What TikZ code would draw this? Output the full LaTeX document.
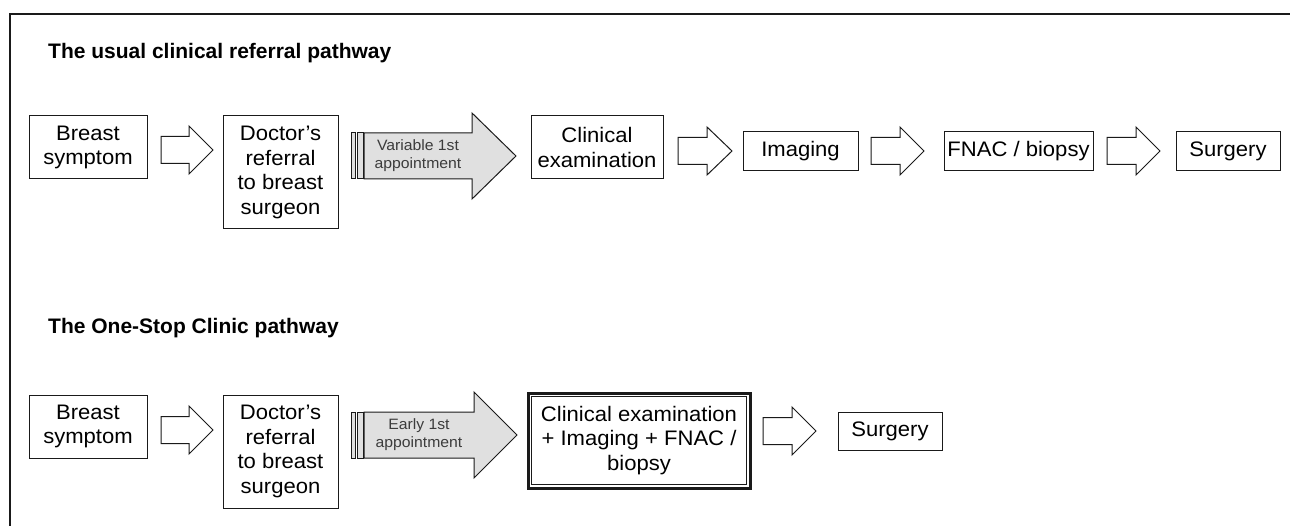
\documentclass[tikz,border=0pt]{standalone}
\usepackage{fontspec}
\setmainfont{Liberation Sans}[FakeStretch=1.05]
\newfontfamily\titlefont{Liberation Sans}
\definecolor{arrowgray}{HTML}{E0E0E0}
\definecolor{inkc}{HTML}{1A1A1A}
\newcommand{\hollowarrow}[5]{% xstart, xhead, xtip, yc, fill
  \draw[blockarrow, fill=#5] (#1,#4-13.5) -- (#2,#4-13.5) -- (#2,#4-24) -- (#3,#4) -- (#2,#4+24) -- (#2,#4+13.5) -- (#1,#4+13.5) -- cycle;}
\newcommand{\bigarrow}[5]{% xhead, xtip, yc, name, text
  \draw[blockarrow, fill=arrowgray] (351,#3-23) rectangle (355,#3+23);
  \draw[blockarrow, fill=arrowgray] (357,#3-23) rectangle (363,#3+23);
  \draw[blockarrow, fill=arrowgray] (364,#3-23) -- (#1,#3-23) -- (#1,#3-43) -- (#2,#3) -- (#1,#3+43) -- (#1,#3+23) -- (364,#3+23) -- cycle;
  \node[smalltxt] (#4) at ({(364+#1)/2},#3) {#5};}
\begin{document}
\begin{tikzpicture}[x=1pt,y=-1pt,
  box/.style={draw=inkc, line width=1pt, fill=white, align=center, inner sep=0pt,
    font=\fontsize{21}{24.5}\selectfont},
  blockarrow/.style={draw=inkc, line width=1pt, line join=miter},
  smalltxt/.style={align=center, inner sep=0pt, text=inkc!85, font=\fontsize{15}{18}\selectfont},
  titletxt/.style={anchor=base west, inner sep=0pt, font=\titlefont\fontsize{21}{25}\selectfont\bfseries}]
\useasboundingbox (0,0) rectangle (1290,526);
% frame
\draw[inkc, line width=1.8pt] (10,526) -- (10,14) -- (1290,14);

% ---------- Row 1 ----------
\node[titletxt] (t1) at (48,59) {The usual clinical referral pathway};
\node[box, minimum width=118, minimum height=63] (bs1) at (88,147.5) {Breast\\symptom};
\hollowarrow{161}{189}{213}{150}{white}
\node[box, minimum width=115, minimum height=113] (doc1) at (280.5,172.5) {Doctor’s\\referral\\to breast\\surgeon};
\bigarrow{472}{516}{156}{va}{Variable 1st\\appointment}
\node[box, minimum width=132, minimum height=63] (ce1) at (597,147.5) {Clinical\\examination};
\hollowarrow{678}{707}{732}{151}{white}
\node[box, minimum width=115, minimum height=39] (img) at (800.5,151.5) {Imaging};
\hollowarrow{871}{900}{924}{151}{white}
\node[box, minimum width=149, minimum height=39] (fnac) at (1018.5,151.5) {FNAC / biopsy};
\hollowarrow{1107}{1136}{1160}{151}{white}
\node[box, minimum width=104, minimum height=39] (surg1) at (1228,151.5) {Surgery};

% ---------- Row 2 ----------
\node[titletxt] (t2) at (48,334) {The One-Stop Clinic pathway};
\node[box, minimum width=118, minimum height=63] (bs2) at (88,426.5) {Breast\\symptom};
\hollowarrow{161}{189}{213}{430}{white}
\node[box, minimum width=115, minimum height=113] (doc2) at (280.5,451.5) {Doctor’s\\referral\\to breast\\surgeon};
\bigarrow{474}{517}{435}{ea}{Early 1st\\appointment}
\node[box, line width=3pt, minimum width=222, minimum height=95] (comb) at (639,440.5) {};
\draw[inkc, line width=1pt] ([xshift=5pt,yshift=5pt]comb.south west) rectangle ([xshift=-5pt,yshift=-5pt]comb.north east);
\node[align=center, inner sep=0pt, font=\fontsize{21}{24.5}\selectfont] (combt) at (comb.center) {Clinical examination\\+ Imaging + FNAC /\\biopsy};
\hollowarrow{763}{792}{816}{431}{white}
\node[box, minimum width=104, minimum height=38] (surg2) at (890,431) {Surgery};
\end{tikzpicture}
\end{document}
